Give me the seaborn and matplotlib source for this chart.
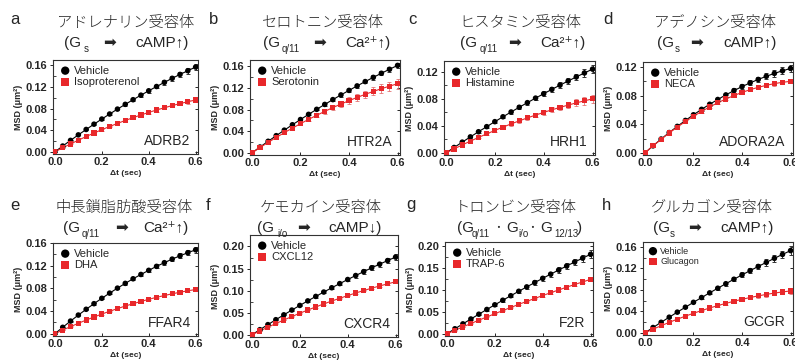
import matplotlib
matplotlib.use("Agg")
import matplotlib.pyplot as plt
import seaborn as sns
from matplotlib.ticker import FormatStrFormatter, MultipleLocator

sns.set_theme(style="ticks")
plt.rcParams["font.family"] = ["Liberation Sans", "Noto Sans CJK JP", "DejaVu Sans"]

# time lag (sec)
t = [0.0, 0.0333, 0.0667, 0.1, 0.1333, 0.1667, 0.2, 0.2333, 0.2667, 0.3,
     0.3333, 0.3667, 0.4, 0.4333, 0.4667, 0.5, 0.5333, 0.5667, 0.6]

# MSD (um^2) per receptor: vehicle / agonist, and their SEM
a_veh = [0, .0107, .0212, .0314, .0414, .0512, .0607, .0700, .0791, .0879, .0965, .1049, .1130, .1209, .1286, .1361, .1433, .1502, .1570]
a_drug = [0, .0075, .0146, .0216, .0283, .0348, .0410, .0469, .0526, .0581, .0633, .0682, .0730, .0774, .0816, .0856, .0893, .0928, .0960]
b_veh = [0, .0108, .0214, .0318, .0420, .0520, .0617, .0713, .0806, .0897, .0986, .1073, .1157, .1240, .1320, .1398, .1474, .1548, .1620]
b_drug = [0, .0098, .0193, .0285, .0373, .0458, .0540, .0620, .0695, .0768, .0838, .0904, .0967, .1027, .1084, .1138, .1188, .1236, .1280]
c_veh = [0, .0081, .0160, .0238, .0314, .0389, .0463, .0535, .0606, .0676, .0744, .0811, .0876, .0940, .1003, .1064, .1124, .1183, .1240]
c_drug = [0, .0060, .0119, .0175, .0230, .0282, .0333, .0382, .0430, .0475, .0519, .0560, .0600, .0638, .0674, .0708, .0741, .0771, .0800]
d_veh = [0, .0098, .0193, .0284, .0370, .0453, .0532, .0608, .0679, .0746, .0810, .0870, .0926, .0978, .1026, .1070, .1111, .1147, .1180]
d_drug = [0, .0098, .0190, .0278, .0360, .0438, .0511, .0579, .0642, .0700, .0753, .0801, .0845, .0883, .0916, .0944, .0968, .0986, .1000]
e_veh = [0, .0113, .0223, .0329, .0431, .0530, .0625, .0716, .0804, .0888, .0969, .1045, .1118, .1188, .1253, .1316, .1374, .1429, .1480]
e_drug = [0, .0064, .0125, .0184, .0241, .0295, .0347, .0396, .0443, .0488, .0530, .0569, .0607, .0642, .0674, .0704, .0732, .0757, .0780]
f_veh = [0, .0116, .0230, .0342, .0452, .0560, .0665, .0768, .0869, .0968, .1065, .1159, .1252, .1342, .1430, .1516, .1599, .1681, .1760]
f_drug = [0, .0087, .0172, .0255, .0335, .0413, .0488, .0561, .0631, .0699, .0765, .0827, .0888, .0946, .1002, .1055, .1106, .1154, .1200]
g_veh = [0, .0114, .0226, .0337, .0446, .0554, .0660, .0764, .0867, .0968, .1068, .1166, .1263, .1358, .1452, .1543, .1634, .1723, .1810]
g_drug = [0, .0079, .0157, .0234, .0310, .0384, .0457, .0529, .0600, .0670, .0738, .0805, .0871, .0935, .0999, .1061, .1122, .1181, .1240]
h_veh = [0, .0099, .0196, .0291, .0385, .0477, .0568, .0657, .0744, .0830, .0914, .0997, .1078, .1157, .1235, .1311, .1386, .1459, .1530]
h_drug = [0, .0068, .0133, .0195, .0254, .0311, .0364, .0415, .0462, .0507, .0549, .0588, .0624, .0657, .0688, .0715, .0740, .0761, .0780]

err_a_veh = [0, .001, .001, .001, .0015, .0015, .002, .002, .0025, .0025, .003, .003, .0035, .0035, .004, .0045, .005, .0055, .006]
err_a_drug = [0, .0005, .001, .001, .001, .0015, .0015, .0015, .002, .002, .002, .0025, .0025, .003, .003, .003, .0035, .0035, .004]
err_b_veh = [0, .0005, .001, .001, .0015, .0015, .0015, .002, .002, .0025, .0025, .003, .003, .0035, .0035, .004, .004, .0045, .005]
err_b_drug = [0, .001, .001, .0015, .002, .0025, .003, .0035, .004, .0045, .005, .0055, .006, .0065, .007, .0075, .008, .0085, .009]
err_c_veh = [0, .0005, .001, .001, .0015, .002, .002, .0025, .0025, .003, .003, .0035, .004, .004, .0045, .005, .005, .0055, .006]
err_c_drug = [0, .0005, .001, .001, .0015, .0015, .002, .002, .0025, .0025, .003, .003, .0035, .0035, .004, .0045, .005, .0055, .006]
err_d_veh = [0, .0005, .0005, .001, .001, .0015, .0015, .002, .002, .0025, .0025, .003, .003, .0035, .0035, .004, .0045, .005, .005]
err_d_drug = [0, .0005, .0005, .0005, .001, .001, .001, .0015, .0015, .0015, .002, .002, .002, .0025, .0025, .0025, .003, .003, .003]
err_e_veh = [0, .0005, .001, .001, .001, .0015, .0015, .002, .002, .0025, .0025, .003, .003, .0035, .0035, .004, .0045, .0045, .005]
err_e_drug = [0, .0005, .0005, .0005, .0005, .001, .001, .001, .001, .001, .0015, .0015, .0015, .0015, .002, .002, .002, .002, .002]
err_f_veh = [0, .0005, .001, .0015, .0015, .002, .002, .0025, .003, .003, .0035, .004, .004, .0045, .005, .0055, .006, .0065, .007]
err_f_drug = [0, .0005, .0005, .0005, .001, .001, .001, .001, .0015, .0015, .0015, .0015, .002, .002, .002, .002, .002, .0025, .0025]
err_g_veh = [0, .001, .001, .0015, .002, .0025, .0025, .003, .0035, .004, .0045, .005, .0055, .006, .0065, .007, .0075, .008, .009]
err_g_drug = [0, .0005, .0005, .001, .001, .001, .0015, .0015, .0015, .002, .002, .002, .0025, .0025, .0025, .003, .003, .003, .003]
err_h_veh = [0, .0005, .001, .001, .0015, .002, .002, .0025, .003, .003, .0035, .004, .0045, .005, .0055, .006, .0065, .007, .008]
err_h_drug = [0, .0005, .0005, .001, .001, .001, .0015, .0015, .002, .002, .0025, .0025, .003, .003, .0035, .004, .004, .0045, .005]

letters = ["a", "b", "c", "d", "e", "f", "g", "h"]
receptors = ["アドレナリン受容体", "セロトニン受容体", "ヒスタミン受容体", "アデノシン受容体",
             "中長鎖脂肪酸受容体", "ケモカイン受容体", "トロンビン受容体", "グルカゴン受容体"]
genes = ["ADRB2", "HTR2A", "HRH1", "ADORA2A", "FFAR4", "CXCR4", "F2R", "GCGR"]
drugs = ["Isoproterenol", "Serotonin", "Histamine", "NECA", "DHA", "CXCL12", "TRAP-6", "Glucagon"]

W, H = 795, 364
RED = "#e8282b"

# axes boxes in pixels: left, top, right, bottom
boxes = [(53, 60, 198, 154), (250, 60, 400, 155), (444, 61, 595, 155), (643, 62, 793, 155),
         (53, 243, 198, 336), (250, 235, 398, 337), (445, 242, 593, 336), (643, 242, 793, 335)]
ylims = [(-0.004, 0.170), (-0.004, 0.172), (-0.003, 0.136), (-0.003, 0.127),
         (-0.004, 0.160), (-0.005, 0.226), (-0.005, 0.209), (-0.004, 0.169)]
ysteps = [0.04, 0.04, 0.04, 0.04, 0.04, 0.05, 0.05, 0.04]
legend_sizes = [8, 8, 8, 8, 8, 8, 8, 6.5]

vehicles = [a_veh, b_veh, c_veh, d_veh, e_veh, f_veh, g_veh, h_veh]
treated = [a_drug, b_drug, c_drug, d_drug, e_drug, f_drug, g_drug, h_drug]
veh_err = [err_a_veh, err_b_veh, err_c_veh, err_d_veh, err_e_veh, err_f_veh, err_g_veh, err_h_veh]
drug_err = [err_a_drug, err_b_drug, err_c_drug, err_d_drug, err_e_drug, err_f_drug, err_g_drug, err_h_drug]

# title line 2 pieces: (text, x pixel, kind) kind: 0 normal, 1 subscript, 2 centred dot
formula = [
    [("(G", 64, 0), ("s", 84, 1), ("➡", 103, 0), ("cAMP↑)", 135, 0)],
    [("(G", 263, 0), ("q/11", 282, 1), ("➡", 313, 0), ("Ca²⁺↑)", 345, 0)],
    [("(G", 460, 0), ("q/11", 480, 1), ("➡", 508, 0), ("Ca²⁺↑)", 540, 0)],
    [("(G", 657, 0), ("s", 675, 1), ("➡", 690, 0), ("cAMP↑)", 723, 0)],
    [("(G", 63, 0), ("q/11", 82, 1), ("➡", 115, 0), ("Ca²⁺↑)", 143, 0)],
    [("(G", 257, 0), ("i/o", 277, 1), ("➡", 297, 0), ("cAMP↓)", 328, 0)],
    [("(G", 457, 0), ("q/11", 472, 1), ("・", 498, 2), ("G", 506, 0), ("i/o", 518, 1),
     ("・", 532, 2), ("G", 540, 0), ("12/13", 554, 1), (")", 577, 0)],
    [("(G", 653, 0), ("s", 670, 1), ("➡", 688, 0), ("cAMP↑)", 720, 0)],
]
title_x = [126, 323, 520, 715, 124, 321, 516, 712]
letter_x = [10, 209, 408, 603, 10, 206, 406, 602]

fig = plt.figure(figsize=(W / 100, H / 100), dpi=100)

for i in range(8):
    l, tp, r, b = boxes[i]
    ax = fig.add_axes([l / W, 1 - b / H, (r - l) / W, (b - tp) / H])
    row_y = 0 if i < 4 else 185

    ax.errorbar(t, vehicles[i], yerr=veh_err[i], fmt="none", ecolor="#333333",
                elinewidth=0.7, capsize=1.6, capthick=0.7, zorder=2)
    ax.errorbar(t, treated[i], yerr=drug_err[i], fmt="none", ecolor="#e06a6a",
                elinewidth=0.7, capsize=1.6, capthick=0.7, alpha=0.8, zorder=2)
    sns.lineplot(x=t, y=vehicles[i], ax=ax, color="black", lw=0.8, zorder=1)
    sns.lineplot(x=t, y=treated[i], ax=ax, color=RED, lw=0.8, zorder=1)
    sns.scatterplot(x=t, y=vehicles[i], ax=ax, marker="o", s=16, color="black",
                    edgecolor="none", label="Vehicle", zorder=3)
    sns.scatterplot(x=t, y=treated[i], ax=ax, marker="s", s=14, color=RED,
                    edgecolor="none", label=drugs[i], zorder=3)

    ax.set_xlim(-0.008, 0.61)
    ax.set_ylim(*ylims[i])
    ax.xaxis.set_major_locator(MultipleLocator(0.2))
    ax.yaxis.set_major_locator(MultipleLocator(ysteps[i]))
    ax.yaxis.set_minor_locator(MultipleLocator(ysteps[i] / 2))
    ax.xaxis.set_major_formatter(FormatStrFormatter("%.1f"))
    ax.yaxis.set_major_formatter(FormatStrFormatter("%.2f"))
    ax.tick_params(axis="y", which="major", direction="out", length=2.5, width=0.7,
                   pad=1.5, labelsize=8)
    ax.tick_params(axis="y", which="minor", direction="in", length=2, width=0.6)
    ax.tick_params(axis="x", direction="in", length=2, width=0.7, pad=2, labelsize=8)
    for lab in ax.get_xticklabels() + ax.get_yticklabels():
        lab.set_fontweight("bold")
    sec = ax.secondary_yaxis("right")
    sec.yaxis.set_major_locator(MultipleLocator(ysteps[i]))
    sec.tick_params(direction="in", length=2.5, width=0.7, labelright=False)
    sec.spines["right"].set_visible(False)
    for sp in ax.spines.values():
        sp.set_linewidth(0.8)
        sp.set_color("#333333")

    ax.set_xlabel("Δt (sec)", fontsize=6, fontweight="bold", labelpad=2)
    ax.set_ylabel("MSD (μm²)", fontsize=6.5, fontweight="bold", labelpad=2)

    ax.legend(loc="upper left", frameon=False, fontsize=legend_sizes[i], markerscale=1.5,
              handletextpad=0.2, borderaxespad=0.3, labelspacing=0.15, borderpad=0.2,
              handlelength=1.2)
    ax.text(0.95, 0.06, genes[i], transform=ax.transAxes, ha="right", va="bottom",
            fontsize=10)

    # panel letter and titles
    fig.text(letter_x[i] / W, 1 - (20 + row_y) / H, letters[i], fontsize=12,
             ha="left", va="center")
    fig.text(title_x[i] / W, 1 - (23 + row_y) / H, receptors[i], fontsize=11,
             ha="center", va="center", fontweight="light",
             family=["Noto Sans CJK JP", "DejaVu Sans"])
    for txt, xp, kind in formula[i]:
        if kind == 1:
            fig.text(xp / W, 1 - (49 + row_y) / H, txt, fontsize=7, ha="left", va="center")
        elif kind == 2:
            fig.text(xp / W, 1 - (43 + row_y) / H, txt, fontsize=7, ha="center", va="center",
                     family=["Noto Sans CJK JP", "DejaVu Sans"])
        else:
            fig.text(xp / W, 1 - (43 + row_y) / H, txt, fontsize=11, ha="left", va="center",
                     family=["Liberation Sans", "DejaVu Sans", "Noto Sans CJK JP"])

fig.savefig("out.png", dpi=100)
